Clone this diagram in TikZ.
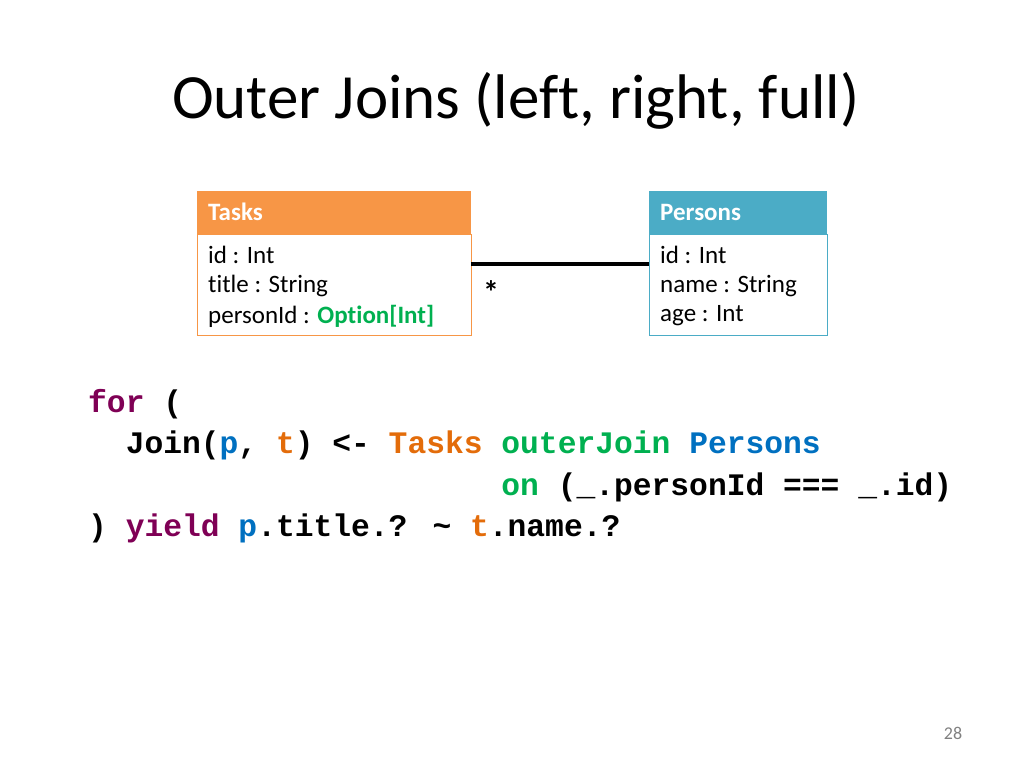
\documentclass[tikz,border=0pt]{standalone}
\usepackage{fontspec}
\setmainfont[Ligatures=NoCommon]{Carlito}
\newfontfamily\codefont{Liberation Mono}
\definecolor{torange}{HTML}{F79646}
\definecolor{pblue}{HTML}{4BACC6}
\definecolor{kw}{HTML}{7F0055}
\definecolor{cblue}{HTML}{0070C0}
\definecolor{corange}{HTML}{E36C0A}
\definecolor{cgreen}{HTML}{00B050}
\begin{document}
\begin{tikzpicture}[x=1pt,y=-1pt,
  attr/.style={anchor=west,font=\fontsize{25}{28}\selectfont,inner sep=0pt},
  hdr/.style={anchor=west,font=\fontsize{25}{28}\selectfont\bfseries,text=white,inner sep=0pt},
  code/.style={anchor=base west,font=\fontsize{31.3}{36}\selectfont\codefont\bfseries,inner sep=0pt}]
\useasboundingbox (0,0) rectangle (1024,768);
\node[anchor=base west,font=\fontsize{63}{70}\selectfont,inner sep=0pt] (title) at (172,118) {Outer Joins (left, right, full)};
% Tasks
\fill[fill=torange] (197,191) rectangle (471,234);
\draw[draw=torange,line width=1pt] (197,234) rectangle (471,335);
\node[hdr] (th) at (208,212) {Tasks};
\node[attr] (t1) at (208,255) {id : Int};
\node[attr] (t2) at (208,286) {title : String};
\node[attr] (t3) at (208,316) {personId : \textcolor{cgreen}{\bfseries Option[Int]}};
\coordinate (tr) at (471,264);
% Persons
\fill[fill=pblue] (649,191) rectangle (827,234);
\draw[draw=pblue,line width=1pt] (649,234) rectangle (827,335);
\node[hdr] (ph) at (660,212) {Persons};
\node[attr] (p1) at (660,255) {id : Int};
\node[attr] (p2) at (660,286) {name : String};
\node[attr] (p3) at (660,316) {age : Int};
\coordinate (pl) at (649,264);
\draw[line width=4pt] (tr) -- (pl);
\node[font=\fontsize{32}{32}\selectfont\bfseries,inner sep=0pt] (star) at (491,292) {*};
% code
\node[code] (c1) at (88,412) {\textcolor{kw}{for} (};
\node[code] (c2) at (88,453) {\ \ Join(\textcolor{cblue}{p}, \textcolor{corange}{t}) <- \textcolor{corange}{Tasks} \textcolor{cgreen}{outerJoin} \textcolor{cblue}{Persons}};
\node[code] (c3) at (88,495) {\phantom{\ \ Join(p, t) <- Tasks }\textcolor{cgreen}{on} (\_.personId === \_.id)};
\node[code] (c4) at (88,536) {) \textcolor{kw}{yield} \textcolor{cblue}{p}.title.? \textasciitilde{} \textcolor{corange}{t}.name.?};
\node[font=\fontsize{18}{20}\selectfont,text=gray,inner sep=0pt] (pg) at (953,733) {28};
\end{tikzpicture}
\end{document}
